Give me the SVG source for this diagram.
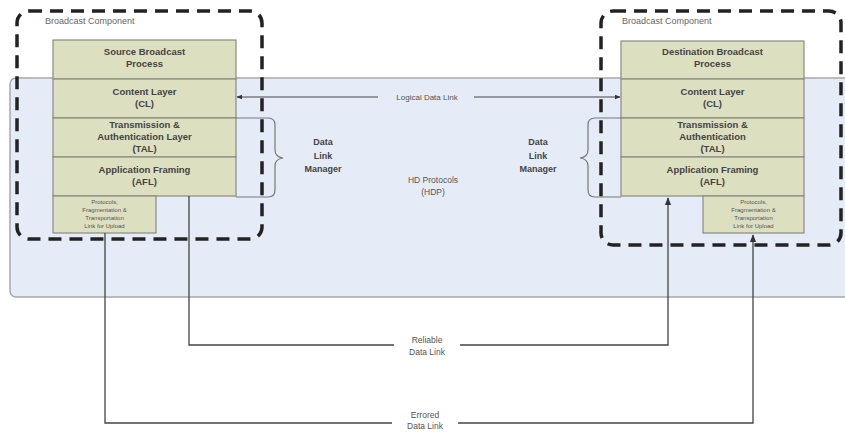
<svg xmlns="http://www.w3.org/2000/svg" width="845" height="434" viewBox="0 0 845 434">
<defs>
<style>
.panel{fill:#e6ecf7;stroke:#a8a8a8;stroke-width:1.5}
.box{fill:#dcdfc0;stroke:#8a8a80;stroke-width:1.2}
.bt{font-family:"Liberation Sans",Arial,sans-serif;font-size:9.5px;font-weight:bold;fill:#444;text-anchor:middle}
.st{font-family:"Liberation Sans",Arial,sans-serif;font-size:6px;fill:#555;text-anchor:middle}
.lt{font-family:"Liberation Sans",Arial,sans-serif;font-size:8.5px;fill:#555;text-anchor:middle}
.tt{font-family:"Liberation Sans",Arial,sans-serif;font-size:9px;fill:#666}
.dash{fill:none;stroke:#222;stroke-width:3.5;stroke-dasharray:13 8}
.conn{fill:none;stroke:#444;stroke-width:1.3}
.brace{fill:none;stroke:#777;stroke-width:1.2}
</style>
<marker id="arr" viewBox="0 0 10 10" refX="9" refY="5" markerWidth="6" markerHeight="6" orient="auto-start-reverse">
<path d="M0,1 L10,5 L0,9 z" fill="#333"/>
</marker>
</defs>
<rect width="845" height="434" fill="#ffffff"/>
<rect id="hdp-panel" class="panel" x="10" y="78" width="850" height="219" rx="6"/>
<g id="hdp-label">
<text class="lt" x="433" y="183">HD Protocols</text>
<text class="lt" x="433" y="195">(HDP)</text>
</g>

<g id="source-stack">
<rect class="box" x="53" y="40" width="183" height="39"/>
<text class="bt" x="144.5" y="55">Source Broadcast</text>
<text class="bt" x="144.5" y="67">Process</text>
</g>
<g id="source-cl">
<rect class="box" x="53" y="79" width="183" height="39"/>
<text class="bt" x="144.5" y="95">Content Layer</text>
<text class="bt" x="144.5" y="107">(CL)</text>
</g>
<g id="source-tal">
<rect class="box" x="53" y="118" width="183" height="39"/>
<text class="bt" x="144.5" y="128">Transmission &amp;</text>
<text class="bt" x="144.5" y="140">Authentication Layer</text>
<text class="bt" x="144.5" y="152">(TAL)</text>
</g>
<g id="source-afl">
<rect class="box" x="53" y="157" width="183" height="39"/>
<text class="bt" x="144.5" y="173">Application Framing</text>
<text class="bt" x="144.5" y="185">(AFL)</text>
</g>
<g id="source-pf">
<rect class="box" x="53" y="196" width="103" height="37"/>
<text class="st" x="104.5" y="204">Protocols,</text>
<text class="st" x="104.5" y="212">Fragmentation &amp;</text>
<text class="st" x="104.5" y="220">Transportation</text>
<text class="st" x="104.5" y="228">Link for Upload</text>
</g>

<g id="dest-stack">
<rect class="box" x="621" y="41" width="183" height="38"/>
<text class="bt" x="712.5" y="55">Destination Broadcast</text>
<text class="bt" x="712.5" y="67">Process</text>
</g>
<g id="dest-cl">
<rect class="box" x="621" y="79" width="183" height="39"/>
<text class="bt" x="712.5" y="95">Content Layer</text>
<text class="bt" x="712.5" y="107">(CL)</text>
</g>
<g id="dest-tal">
<rect class="box" x="621" y="118" width="183" height="39"/>
<text class="bt" x="712.5" y="128">Transmission &amp;</text>
<text class="bt" x="712.5" y="140">Authentication</text>
<text class="bt" x="712.5" y="152">(TAL)</text>
</g>
<g id="dest-afl">
<rect class="box" x="621" y="157" width="183" height="39"/>
<text class="bt" x="712.5" y="173">Application Framing</text>
<text class="bt" x="712.5" y="185">(AFL)</text>
</g>
<g id="dest-pf">
<rect class="box" x="703" y="196" width="101" height="37"/>
<text class="st" x="753.5" y="204">Protocols,</text>
<text class="st" x="753.5" y="212">Fragmentation &amp;</text>
<text class="st" x="753.5" y="220">Transportation</text>
<text class="st" x="753.5" y="228">Link for Upload</text>
</g>

<g id="dlm-left">
<path class="brace" d="M236,118 H268 Q275,118 275,125 V150 Q275,157 283,158 Q275,159 275,166 V190 Q275,197 268,197 H236"/>
<text class="bt" x="323" y="145" style="font-size:9px">Data</text>
<text class="bt" x="323" y="159" style="font-size:9px">Link</text>
<text class="bt" x="323" y="172" style="font-size:9px">Manager</text>
</g>
<g id="dlm-right">
<path class="brace" d="M621,118 H595 Q588,118 588,125 V150 Q588,157 580,158 Q588,159 588,166 V190 Q588,197 595,197 H621"/>
<text class="bt" x="538" y="145" style="font-size:9px">Data</text>
<text class="bt" x="538" y="159" style="font-size:9px">Link</text>
<text class="bt" x="538" y="172" style="font-size:9px">Manager</text>
</g>

<g id="connectors">
<line class="conn" x1="237" y1="97" x2="620" y2="97" marker-start="url(#arr)" marker-end="url(#arr)" style="stroke-width:1"/>
<rect x="378" y="92" width="96" height="10" fill="#e6ecf7"/>
<text class="lt" x="427" y="100" style="font-size:8px">Logical Data Link</text>
<path class="conn" d="M189,196 V345 H668 V198" marker-end="url(#arr)"/>
<rect x="394" y="333" width="66" height="26" fill="#ffffff"/>
<text class="lt" x="427" y="343">Reliable</text>
<text class="lt" x="427" y="355">Data Link</text>
<path class="conn" d="M105,233 V423 H753 V235" marker-end="url(#arr)"/>
<rect x="392" y="408" width="66" height="26" fill="#ffffff"/>
<text class="lt" x="425" y="418">Errored</text>
<text class="lt" x="425" y="429">Data Link</text>
</g>

<g id="broadcast-left">
<rect class="dash" x="17" y="11" width="245" height="228" rx="12"/>
<text class="tt" x="45" y="24">Broadcast Component</text>
</g>
<g id="broadcast-right">
<rect class="dash" x="601" y="11" width="240" height="234" rx="12"/>
<text class="tt" x="622" y="24">Broadcast Component</text>
</g>
</svg>
